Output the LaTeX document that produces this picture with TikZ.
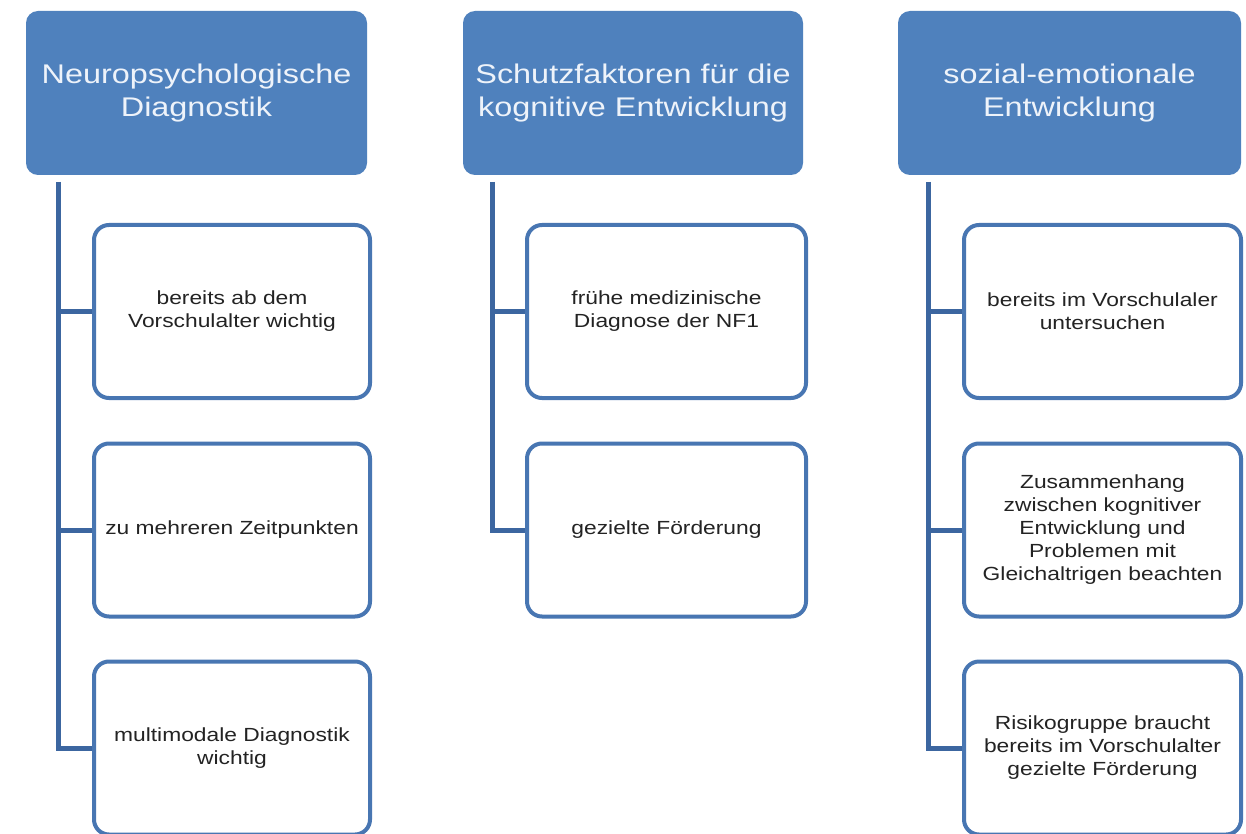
\documentclass[tikz,border=0pt]{standalone}
\usepackage{fontspec}
\setmainfont{Liberation Sans}[FakeStretch=1.2]
\definecolor{hdrblue}{RGB}{79,129,189}
\definecolor{boxblue}{RGB}{72,118,178}
\definecolor{lineblue}{RGB}{60,102,160}
\definecolor{hdrtext}{RGB}{238,243,250}
\definecolor{bodytext}{RGB}{35,35,35}
\tikzset{
  header/.style={fill=hdrblue, draw=none, rounded corners=12pt, minimum width=#1, minimum height=164pt,
    text=hdrtext, align=center, font=\fontsize{27pt}{33pt}\selectfont, inner sep=0pt},
  child/.style={draw=boxblue, line width=4pt, fill=white, rounded corners=15pt, minimum width=#1, minimum height=173pt,
    text=bodytext, align=center, font=\fontsize{19pt}{23pt}\selectfont, inner sep=0pt},
  conn/.style={draw=lineblue, line width=5pt}
}
\begin{document}
\begin{tikzpicture}[x=1pt,y=-1pt]
\useasboundingbox (0,0) rectangle (1246,834);
\fill[white] (0,0) rectangle (1246,834);
% headers
\node[header=341pt] (h1) at (196.5,93) {Neuropsychologische\\Diagnostik};
\node[header=340pt] (h2) at (633,93) {Schutzfaktoren für die\\kognitive Entwicklung};
\node[header=343pt] (h3) at (1069.5,93) {sozial-emotionale\\Entwicklung};
% trunk tops
\coordinate (t1) at (58,182);
\coordinate (t2) at (492,182);
\coordinate (t3) at (928,182);
% connectors
\draw[conn] (t1) |- (232,748);
\draw[conn] (t2) |- (666,530);
\draw[conn] (t3) |- (1102,748);
% children column 1
\node[child=276pt] (a1) at (232,311.5) {bereits ab dem\\Vorschulalter wichtig};
\node[child=276pt] (a2) at (232,530) {zu mehreren Zeitpunkten};
\node[child=276pt] (a3) at (232,748) {multimodale Diagnostik\\wichtig};
% children column 2
\node[child=279pt] (b1) at (666.5,311.5) {frühe medizinische\\Diagnose der NF1};
\node[child=279pt] (b2) at (666.5,530) {gezielte Förderung};
% children column 3
\node[child=277pt] (c1) at (1102.5,311.5) {bereits im Vorschulaler\\untersuchen};
\node[child=277pt] (c2) at (1102.5,530) {Zusammenhang\\zwischen kognitiver\\Entwicklung und\\Problemen mit\\Gleichaltrigen beachten};
\node[child=277pt] (c3) at (1102.5,748) {Risikogruppe braucht\\bereits im Vorschulalter\\gezielte Förderung};
% horizontal stubs to the boxes
\draw[conn] (58,311.5) -- (a1.west);
\draw[conn] (58,530) -- (a2.west);
\draw[conn] (58,748) -- (a3.west);
\draw[conn] (492,311.5) -- (b1.west);
\draw[conn] (492,530) -- (b2.west);
\draw[conn] (928,311.5) -- (c1.west);
\draw[conn] (928,530) -- (c2.west);
\draw[conn] (928,748) -- (c3.west);
\end{tikzpicture}
\end{document}
